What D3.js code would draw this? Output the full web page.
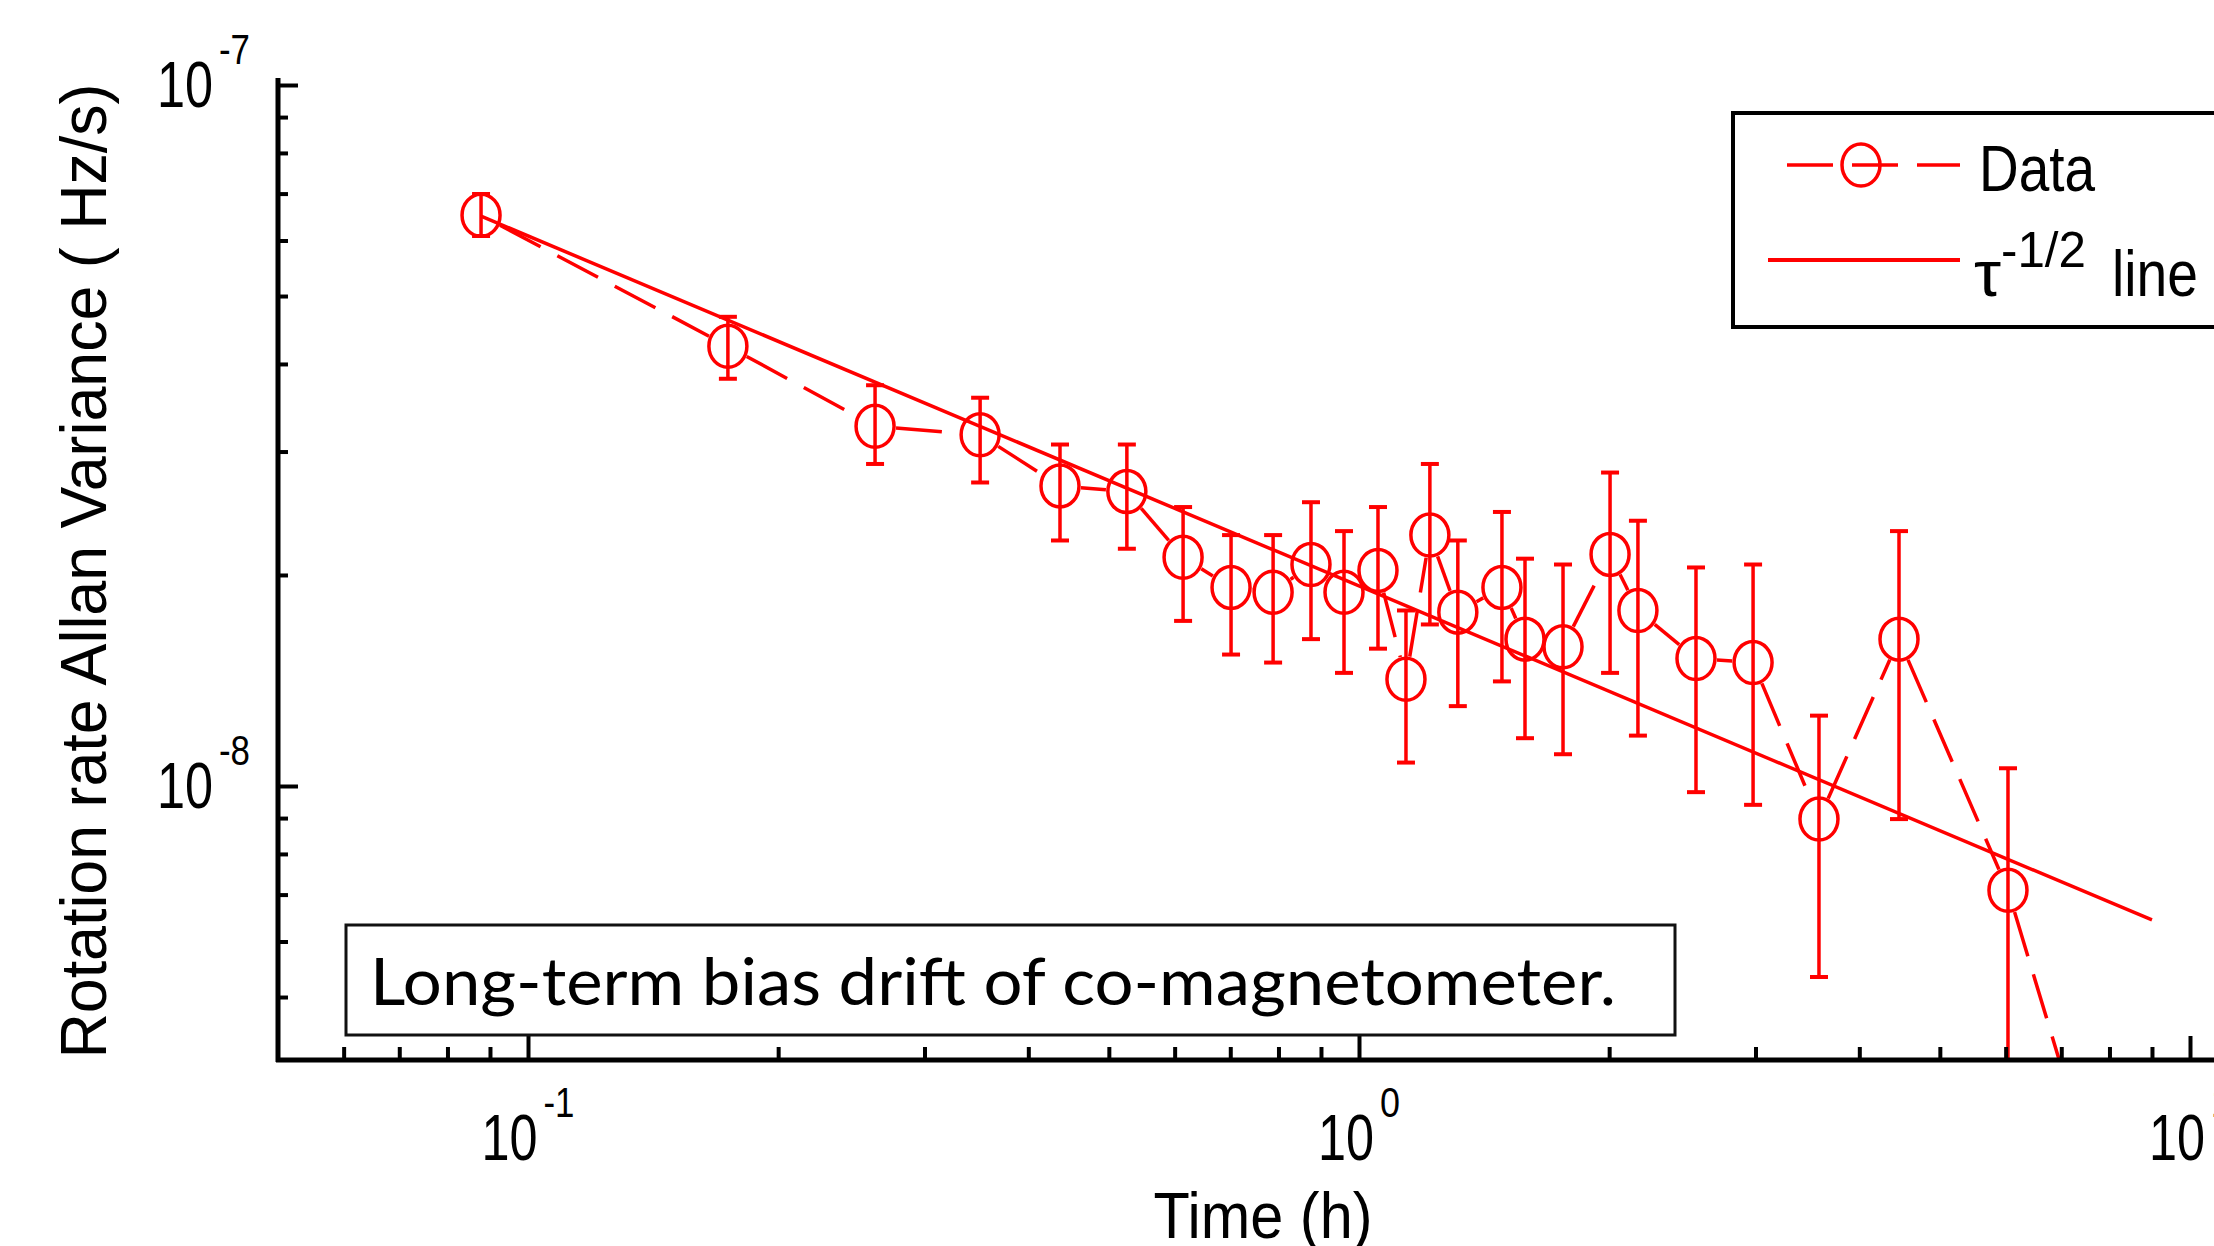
<!DOCTYPE html>
<html>
<head>
<meta charset="utf-8">
<script src="https://cdn.jsdelivr.net/npm/d3@7"></script>
<style>
  html, body { margin: 0; padding: 0; background: #fff; }
  svg { display: block; }
  .lab { font-family: "Liberation Sans", Arial, sans-serif; fill: #000; }
</style>
</head>
<body>
<svg id="chart" width="2214" height="1246"></svg>
<script>
// ---------------- data ----------------
const time = [0.0878, 0.174, 0.2616, 0.350, 0.4367, 0.5256, 0.6142, 0.7015, 0.7882, 0.8754,
              0.9593, 1.054, 1.139, 1.217, 1.315, 1.486, 1.584, 1.760, 2.005, 2.166,
              2.544, 2.980, 3.577, 4.465, 6.039, 7.47];
const allan = [6.52e-8, 4.24e-8, 3.26e-8, 3.17e-8, 2.68e-8, 2.63e-8, 2.12e-8, 1.92e-8, 1.89e-8, 2.07e-8,
               1.89e-8, 2.03e-8, 1.42e-8, 2.28e-8, 1.77e-8, 1.92e-8, 1.62e-8, 1.58e-8, 2.14e-8, 1.78e-8,
               1.52e-8, 1.50e-8, 0.897e-8, 1.62e-8, 0.710e-8, 0.308e-8];
const errHigh = [6.99e-8, 4.67e-8, 3.73e-8, 3.58e-8, 3.07e-8, 3.07e-8, 2.50e-8, 2.28e-8, 2.28e-8, 2.54e-8,
                 2.31e-8, 2.50e-8, 1.78e-8, 2.88e-8, 2.24e-8, 2.46e-8, 2.11e-8, 2.07e-8, 2.80e-8, 2.39e-8,
                 2.05e-8, 2.07e-8, 1.26e-8, 2.31e-8, 1.06e-8, null];
const errLow = [6.09e-8, 3.81e-8, 2.88e-8, 2.71e-8, 2.24e-8, 2.18e-8, 1.72e-8, 1.54e-8, 1.50e-8, 1.62e-8,
                1.45e-8, 1.57e-8, 1.08e-8, 1.70e-8, 1.30e-8, 1.41e-8, 1.17e-8, 1.11e-8, 1.45e-8, 1.18e-8,
                0.98e-8, 0.94e-8, 0.534e-8, 0.897e-8, 0.30e-8, null];
const fitTime = [0.0878, 9.0];
const fitAllan = [6.50e-8, 6.44e-9];

const xMajor = [0.1, 1, 10];
const xMajorExp = ["-1", "0", "1"];
const xMinor = [0.06, 0.07, 0.08, 0.09, 0.2, 0.3, 0.4, 0.5, 0.6, 0.7, 0.8, 0.9, 2, 3, 4, 5, 6, 7, 8, 9];
const yMajor = [1e-8, 1e-7];
const yMajorExp = ["-8", "-7"];
const yMinor = [5e-9, 6e-9, 7e-9, 8e-9, 9e-9, 2e-8, 3e-8, 4e-8, 5e-8, 6e-8, 7e-8, 8e-8, 9e-8];

const xTitle = "Time (h)";
const yTitle = "Rotation rate Allan Variance (  Hz/s)";
const legendData = "Data";
const legendFit = ["\u03C4", "-1/2", "line"];
const noteText = "Long-term bias drift of co-magnetometer.";

// ---------------- layout ----------------
const RED = "#ff0000";
const svg = d3.select("#chart");
const plot = { left: 278, right: 2214, top: 78, bottom: 1060 };

const x = d3.scaleLog().domain([0.1, 10]).range([528, 2190]);
const y = d3.scaleLog().domain([1e-8, 1e-7]).range([786, 85]);

svg.append("rect").attr("width", 2214).attr("height", 1246).attr("fill", "#fff");

svg.append("clipPath").attr("id", "clip")
  .append("rect").attr("x", plot.left).attr("y", plot.top)
  .attr("width", plot.right - plot.left).attr("height", plot.bottom - plot.top);

const g = svg.append("g").attr("clip-path", "url(#clip)");

// tau^-1/2 fit line
g.append("path")
  .datum(fitTime.map((t, i) => [t, fitAllan[i]]))
  .attr("d", d3.line().x(d => x(d[0])).y(d => y(d[1])))
  .attr("fill", "none").attr("stroke", RED).attr("stroke-width", 3.5);

// dashed connecting line, with gaps at the symbols
const RX = 19, RY = 21;
const pts = time.map((t, i) => ({ px: x(t), py: y(allan[i]) }));
function edgeGap(dx, dy) {
  const th = Math.atan2(dy, dx);
  return RX * RY / Math.sqrt(Math.pow(RY * Math.cos(th), 2) + Math.pow(RX * Math.sin(th), 2)) + 2;
}
for (let i = 0; i < pts.length - 1; i++) {
  const p = pts[i], q = pts[i + 1];
  const dx = q.px - p.px, dy = q.py - p.py;
  const len = Math.hypot(dx, dy);
  const gp = edgeGap(dx, dy);
  if (len <= 2 * gp) continue;
  const ux = dx / len, uy = dy / len;
  g.append("line")
    .attr("x1", p.px + ux * gp).attr("y1", p.py + uy * gp)
    .attr("x2", q.px - ux * gp).attr("y2", q.py - uy * gp)
    .attr("stroke", RED).attr("stroke-width", 3.5)
    .attr("stroke-dasharray", "46 19");
}

// error bars
time.forEach((t, i) => {
  if (errHigh[i] == null) return;
  const cx = x(t), yt = y(errHigh[i]), yb = y(errLow[i]);
  g.append("line").attr("x1", cx).attr("x2", cx).attr("y1", yt).attr("y2", yb)
    .attr("stroke", RED).attr("stroke-width", 3.5);
  [yt, yb].forEach(yy => {
    g.append("line").attr("x1", cx - 9).attr("x2", cx + 9).attr("y1", yy).attr("y2", yy)
      .attr("stroke", RED).attr("stroke-width", 4);
  });
});

// symbols
g.selectAll("ellipse.sym").data(time.map((t, i) => [t, allan[i]])).enter()
  .append("ellipse").attr("class", "sym")
  .attr("cx", d => x(d[0])).attr("cy", d => y(d[1]))
  .attr("rx", RX).attr("ry", RY)
  .attr("fill", "none").attr("stroke", RED).attr("stroke-width", 3.5);

// ---------------- axes ----------------
const axisG = svg.append("g");
function styleAxis(sel) {
  sel.select(".domain").remove();
  sel.selectAll(".tick line").attr("stroke", "#000").attr("stroke-width", 4);
  sel.selectAll(".tick text").remove();
}
axisG.append("g").attr("transform", `translate(${plot.left},0)`)
  .call(d3.axisRight(y).tickValues(yMajor).tickSize(20).tickFormat("")).call(styleAxis);
axisG.append("g").attr("transform", `translate(${plot.left},0)`)
  .call(d3.axisRight(y).tickValues(yMinor).tickSize(10).tickFormat("")).call(styleAxis);
axisG.append("g").attr("transform", `translate(0,${plot.bottom})`)
  .call(d3.axisTop(x).tickValues(xMajor).tickSize(24).tickFormat("")).call(styleAxis);
axisG.append("g").attr("transform", `translate(0,${plot.bottom})`)
  .call(d3.axisTop(x).tickValues(xMinor).tickSize(13).tickFormat("")).call(styleAxis);

axisG.append("line").attr("x1", plot.left).attr("x2", plot.left)
  .attr("y1", plot.top).attr("y2", plot.bottom + 2)
  .attr("stroke", "#000").attr("stroke-width", 5);
axisG.append("line").attr("x1", plot.left - 2).attr("x2", plot.right)
  .attr("y1", plot.bottom).attr("y2", plot.bottom)
  .attr("stroke", "#000").attr("stroke-width", 5);

function addText(parent, txt, xx, yy, fs, len) {
  return parent.append("text").attr("class", "lab")
    .attr("x", xx).attr("y", yy).attr("font-size", fs)
    .attr("textLength", len).attr("lengthAdjust", "spacingAndGlyphs")
    .text(txt);
}
// power-of-ten label as one text element: "10" plus a raised exponent
const TEN_W = 56, SUP_FS = 43, TEN_FS = 64;
function supWidth(e) { return e.length >= 2 ? 31 : 20; }
function powLabel(left, baseline, exp) {
  const t = svg.append("text").attr("class", "lab").attr("font-size", TEN_FS);
  t.append("tspan").attr("x", left).attr("y", baseline)
    .attr("textLength", TEN_W).attr("lengthAdjust", "spacingAndGlyphs").text("10");
  t.append("tspan").attr("x", left + TEN_W + 6).attr("y", baseline - 43)
    .attr("font-size", SUP_FS)
    .attr("textLength", supWidth(exp)).attr("lengthAdjust", "spacingAndGlyphs").text(exp);
}
yMajor.forEach((v, i) => {
  powLabel(213 - TEN_W, y(v) + 22, yMajorExp[i]);
});
xMajor.forEach((v, i) => {
  const total = TEN_W + 6 + supWidth(xMajorExp[i]);
  powLabel(x(v) - total / 2, 1160, xMajorExp[i]);
});

// axis titles
addText(svg, xTitle, 1263 - 219 / 2, 1238, 65, 219);
svg.append("text").attr("class", "lab")
  .attr("transform", "translate(106,571) rotate(-90)")
  .attr("x", -975 / 2).attr("y", 0).attr("font-size", 65)
  .attr("textLength", 975).attr("lengthAdjust", "spacingAndGlyphs")
  .text(yTitle);

// ---------------- legend ----------------
const lg = svg.append("g");
lg.append("rect").attr("x", 1733).attr("y", 113).attr("width", 600).attr("height", 214)
  .attr("fill", "#fff").attr("stroke", "#000").attr("stroke-width", 4);
lg.append("line").attr("x1", 1787).attr("x2", 1960).attr("y1", 165).attr("y2", 165)
  .attr("stroke", RED).attr("stroke-width", 3.5).attr("stroke-dasharray", "46 19");
lg.append("ellipse").attr("cx", 1861).attr("cy", 165).attr("rx", RX).attr("ry", RY)
  .attr("fill", "none").attr("stroke", RED).attr("stroke-width", 3.5);
addText(lg, legendData, 1979, 191, 65, 116);
lg.append("line").attr("x1", 1768).attr("x2", 1960).attr("y1", 260).attr("y2", 260)
  .attr("stroke", RED).attr("stroke-width", 4);
const fitLab = lg.append("text").attr("class", "lab").attr("font-size", 64);
fitLab.append("tspan").attr("x", 1974).attr("y", 296)
  .attr("textLength", 27).attr("lengthAdjust", "spacingAndGlyphs").text(legendFit[0]);
fitLab.append("tspan").attr("x", 2001).attr("y", 267).attr("font-size", 50)
  .attr("textLength", 85).attr("lengthAdjust", "spacingAndGlyphs").text(legendFit[1]);
fitLab.append("tspan").attr("x", 2112).attr("y", 296).attr("font-size", 65)
  .attr("textLength", 86).attr("lengthAdjust", "spacingAndGlyphs").text(legendFit[2]);

// ---------------- note box ----------------
svg.append("rect").attr("x", 346).attr("y", 925).attr("width", 1329).attr("height", 110)
  .attr("fill", "#fff").attr("stroke", "#111").attr("stroke-width", 3);
svg.append("text")
  .attr("x", 370).attr("y", 1005)
  .attr("font-family", "Lato, 'Open Sans', sans-serif").attr("font-size", 66)
  .attr("textLength", 1246).attr("lengthAdjust", "spacingAndGlyphs")
  .attr("fill", "#000")
  .text(noteText);
</script>
</body>
</html>
